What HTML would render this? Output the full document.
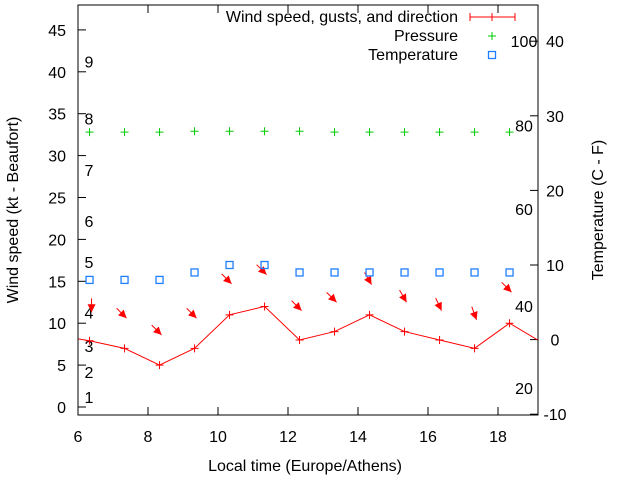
<!DOCTYPE html>
<html><head><meta charset="utf-8"><style>
body{margin:0;background:#fff}
svg text{font-family:"Liberation Sans",sans-serif;font-size:16px;fill:#000}
</style></head><body>
<svg id="chart" width="640" height="480" xmlns="http://www.w3.org/2000/svg">
<g id="layer"></g>
</svg>
<script>
const hours=[5.33,6.33,7.33,8.33,9.33,10.33,11.33,12.33,13.33,14.33,15.33,16.33,17.33,18.33,19.33];
const windSpeed=[8.6,7.9,7,5,7,11,12,8,9,11,9,8,7,10,7.5];
const obsHours=[6.33,7.33,8.33,9.33,10.33,11.33,12.33,13.33,14.33,15.33,16.33,17.33,18.33];
const gusts=[11.3,10.6,8.6,10.6,14.7,15.8,11.5,12.5,14.6,12.5,11.5,10.4,13.7];
const windDir=[0,315,315,315,315,315,315,315,330,330,335,340,315];
const pressure=[32.8,32.8,32.8,32.9,32.9,32.9,32.9,32.8,32.8,32.8,32.8,32.8,32.8];
const temperature=[8,8,8,9,10,10,9,9,9,9,9,9,9];
const leftTicks=[0,5,10,15,20,25,30,35,40,45];
const rightTicks=[-10,0,10,20,30,40];
const xTicks=[6,8,10,12,14,16,18];
const beaufort=[[1,1.2],[2,4.2],[3,7.3],[4,11.3],[5,17.3],[6,22.2],[7,28.3],[8,34.4],[9,41.2]];
const fahr=[[100,40],[80,28.7],[60,17.5],[40,4.5],[20,-6.5]];
const L=78,R=538,T=5,B=415;
const X=h=>L+(h-6)*35;
const Y=v=>407-v*8.38;
const Y2=v=>339.6-v*7.46;
const NS='http://www.w3.org/2000/svg';
const g=document.getElementById('layer');
function mk(t,a,p){const e=document.createElementNS(NS,t);for(const k in a)e.setAttribute(k,a[k]);(p||g).appendChild(e);return e;}
const defs=mk('defs',{});const cp=mk('clipPath',{id:'pc'},defs);mk('rect',{x:L,y:T,width:R-L,height:B-T},cp);
for(const v of leftTicks){const y=Y(v);
const t=mk('line',{x1:L,x2:L+8,y1:y,y2:y,stroke:'#000'});
const s=mk('text',{x:L-12,y:y+6,'text-anchor':'end'});s.textContent=v;}
for(const v of rightTicks){const y=Y2(v);
const t=mk('line',{x1:R-8,x2:R,y1:y,y2:y,stroke:'#000'});
const s=mk('text',{x:R+17,y:y+6,'text-anchor':'middle'});s.textContent=v;}
for(const v of xTicks){const x=X(v);
const t=mk('line',{x1:x,x2:x,y1:B,y2:B-8,stroke:'#000'});
const t2=mk('line',{x1:x,x2:x,y1:T,y2:T+8,stroke:'#000'});
const s=mk('text',{x:x,y:B+27,'text-anchor':'middle'});s.textContent=v;}
for(const [n,v] of beaufort){const s=mk('text',{x:89,y:Y(v)+6,'text-anchor':'middle'});s.textContent=n;}
for(const [n,v] of fahr){const s=mk('text',{x:524,y:Y2(v)+6,'text-anchor':'middle'});s.textContent=n;}
const pg=mk('g',{'clip-path':'url(#pc)'});
const wl=mk('polyline',{points:hours.map((h,i)=>X(h)+','+Y(windSpeed[i])).join(' '),fill:'none',stroke:'#f00','stroke-width':1},pg);

hours.forEach((h,i)=>{const x=X(h),y=Y(windSpeed[i]);
const p=mk('path',{d:`M${x-4},${y}h8M${x},${y-4}v8`,stroke:'#f00'},pg);});
obsHours.forEach((h,i)=>{const x=X(h)+2,y=Y(gusts[i]);const a=windDir[i]*Math.PI/180;
const dx=Math.sin(a)*14,dy=-Math.cos(a)*14;const ux=-dx/14,uy=-dy/14;
const bx=x-ux*8,by=y-uy*8;
const ar=mk('g',{},pg);
mk('line',{x1:x+dx,y1:y+dy,x2:x,y2:y,stroke:'#f00'},ar);
mk('polygon',{points:`${x},${y} ${bx-uy*4},${by+ux*4} ${bx+uy*4},${by-ux*4}`,fill:'#f00'},ar);});
obsHours.forEach((h,i)=>{const x=X(h),y=Y(pressure[i]);
const p=mk('path',{d:`M${x-4},${y}h8M${x},${y-4}v8`,stroke:'#0c0'},pg);});
obsHours.forEach((h,i)=>{const x=X(h),y=Y2(temperature[i]);
const r=mk('rect',{x:x-3.5,y:y-3.5,width:7,height:7,fill:'none',stroke:'#1e7fff','stroke-width':1.3},pg);});
const fr=mk('rect',{x:L,y:T,width:R-L,height:B-T,fill:'none',stroke:'#000'});
const yt=mk('text',{transform:'translate(18,210) rotate(-90)','text-anchor':'middle'});yt.textContent='Wind speed (kt - Beaufort)';
const yt2=mk('text',{transform:'translate(603,210) rotate(-90)','text-anchor':'middle'});yt2.textContent='Temperature (C - F)';
const xt=mk('text',{x:305,y:471,'text-anchor':'middle'});xt.textContent='Local time (Europe/Athens)';
const lg=mk('g',{});
const l1=mk('text',{x:458,y:22,'text-anchor':'end'},lg);l1.textContent='Wind speed, gusts, and direction';
mk('path',{d:'M470,17h45M492,13v8M470,13v8M515,13v8',stroke:'#f00'},lg);
const l2=mk('text',{x:458,y:41,'text-anchor':'end'},lg);l2.textContent='Pressure';
mk('path',{d:'M488,36h8M492,32v8',stroke:'#0c0'},lg);
const l3=mk('text',{x:458,y:60,'text-anchor':'end'},lg);l3.textContent='Temperature';
mk('rect',{x:488.5,y:51.5,width:7,height:7,fill:'none',stroke:'#1e7fff','stroke-width':1.3},lg);
</script>
</body></html>
